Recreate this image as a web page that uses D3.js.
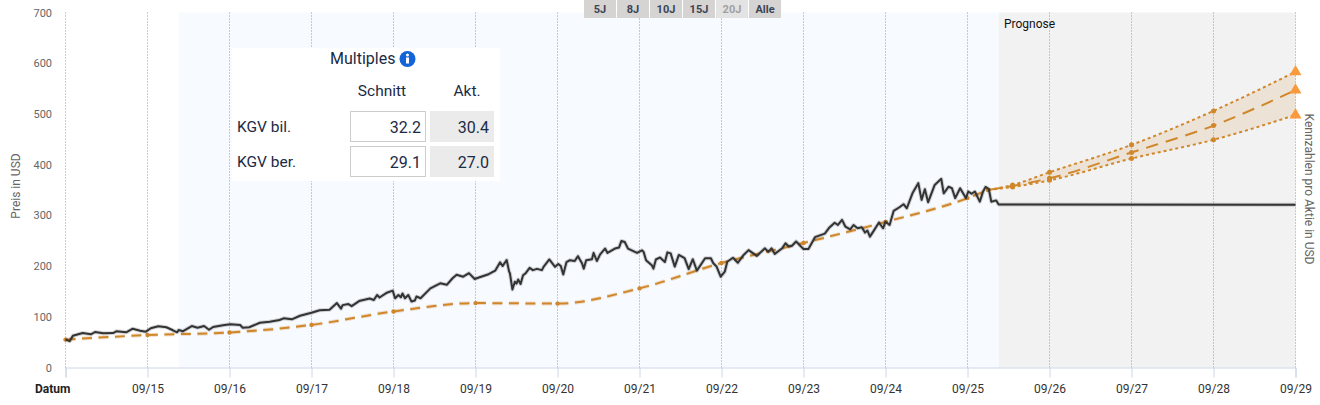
<!DOCTYPE html>
<html><head><meta charset="utf-8">
<script src="https://cdn.jsdelivr.net/npm/d3@7"></script>
<style>
html,body{margin:0;padding:0;background:#fff;overflow:hidden}
svg{display:block;font-family:Roboto,sans-serif}
</style></head><body><svg id="c" width="1320" height="405"></svg>
<script>
// time = years since 09/14
const tickLabels=["09/15","09/16","09/17","09/18","09/19","09/20","09/21","09/22","09/23","09/24","09/25","09/26","09/27","09/28","09/29"];
const yTicks=[0,100,200,300,400,500,600,700];
const ranges=["5J","8J","10J","15J","20J","Alle"];
const priceTimes=[0,.05,.09,.21,.31,.36,.46,.58,.62,.74,.82,.91,.98,1.04,1.13,1.23,1.31,1.36,1.38,1.43,1.54,1.61,1.69,1.75,1.80,1.92,2.01,2.13,2.16,2.24,2.37,2.49,2.61,2.66,2.76,2.86,3.00,3.10,3.22,3.31,3.36,3.38,3.45,3.49,3.58,3.71,3.76,3.80,3.83,3.92,3.99,4.02,4.06,4.09,4.11,4.14,4.18,4.22,4.26,4.28,4.33,4.45,4.57,4.65,4.72,4.77,4.85,4.92,4.99,5.05,5.16,5.24,5.30,5.33,5.38,5.41,5.42,5.45,5.48,5.50,5.52,5.55,5.58,5.61,5.66,5.70,5.75,5.81,5.83,5.90,5.97,6.01,6.04,6.07,6.11,6.15,6.21,6.25,6.30,6.32,6.35,6.42,6.44,6.48,6.52,6.58,6.61,6.70,6.75,6.78,6.82,6.86,6.97,7.03,7.05,7.08,7.15,7.17,7.20,7.25,7.31,7.34,7.38,7.43,7.48,7.55,7.60,7.65,7.70,7.80,7.87,7.90,7.94,7.99,8.04,8.07,8.14,8.20,8.27,8.33,8.43,8.53,8.57,8.61,8.65,8.74,8.78,8.82,8.86,8.91,9.00,9.06,9.14,9.26,9.31,9.38,9.42,9.47,9.51,9.57,9.61,9.66,9.71,9.75,9.78,9.81,9.85,9.92,9.97,10.0,10.05,10.10,10.17,10.22,10.26,10.33,10.40,10.44,10.48,10.52,10.60,10.68,10.71,10.77,10.81,10.85,10.91,10.98,11.01,11.05,11.09,11.15,11.19,11.22,11.26,11.29,11.35,11.38,15];
const priceValues=[55.6,52,62.7,68,65.5,70,67.4,68,71.4,69.4,76.5,72.6,70.6,77.3,81.2,79.3,73.4,69.4,74,71.4,81.8,78.5,81.8,74.5,79.9,83.2,85.2,83.8,78.5,79.3,88.3,90.3,93.7,97,95,102,108,113,114,127,116,123,125,121,131,136,133,143,138,147.5,151.5,136.5,143,138.5,146,136.5,143,130,132,140,136.5,156,166,163,176,183,179,186,174.5,178,184,191,207.5,200,212,189,185.5,154,169,165.5,173.5,164.5,182,185.5,196.5,192,194.5,192,198.5,213,198.5,204,200,183.5,208,211.5,210,219.5,205,195,211.5,213.5,226,210,223,234.5,226,234.5,236.5,249.5,247.5,234.5,226,231,228,211.5,201.5,195,213,217,208,227,225,199,222,215.5,194,213.5,191,215.5,215.5,205.5,199,179,189,208.5,216.5,206.5,222,231.5,220,235,228,235,224,235,245,238.5,240,248.5,233.5,233.5,257,264,275,285.5,281,291,278,272.5,281,274.5,276.5,266,270,258,268,286,274.5,287.5,281,309,316,322,314,344,363.5,330.5,351.5,326,360,372,343.5,356.5,353.5,334,353.5,334,347,342.5,347,327,347,356,352,327,329.5,321.5,321];
const epsTimes=[0,1,2,3,4,5,6,7,8,9,10,11,11.25];
const epsValues=[55,64,69,84,110.5,127,126,156,206,245.5,287,334,350];
const fcTimes=[11.25,11.55,12,13,14,15];
const fcMid=[350,358,373,424,477,547];
const fcHigh=[350,360,385,439,506,583];
const fcLow=[350,356,369,412,449,498];
const multRows=["KGV bil.","KGV ber."];
const multAvg=["32.2","29.1"];
const multCur=["30.4","27.0"];
const bandStart=1.38, forecastStart=11.38;

const svg=d3.select("#c");
const x=d3.scaleLinear().domain([0,15]).range([65.5,1295.5]);
const y=d3.scaleLinear().domain([0,700]).range([367.5,12.5]);
const ORANGE="#d0872b", TEXT="#1c2b45";

svg.append("rect").attr("x",x(bandStart)).attr("y",y(700)).attr("width",x(forecastStart)-x(bandStart)).attr("height",y(0)-y(700)).attr("fill","#f7faff");
svg.append("rect").attr("x",x(forecastStart)).attr("y",y(700)).attr("width",x(15)-x(forecastStart)).attr("height",y(0)-y(700)).attr("fill","#f2f2f2");

// grid
svg.append("g").selectAll("line").data(d3.range(0,16)).join("line")
 .attr("x1",d=>x(d)).attr("x2",d=>x(d)).attr("y1",y(700)).attr("y2",y(0))
 .attr("stroke","#999").attr("stroke-width",1).attr("stroke-dasharray","1,2");

// x axis
const xa=svg.append("g").attr("transform",`translate(0,${y(0)})`)
 .call(d3.axisBottom(x).tickValues(d3.range(0,16)).tickSize(10).tickPadding(7).tickFormat(d=>d===0?"":tickLabels[d-1]));
xa.select(".domain").attr("stroke","#ccd6eb");
xa.selectAll(".tick line").attr("stroke","#ccd6eb");
xa.selectAll("text").attr("font-size",12).attr("font-family","Roboto").attr("fill","#333").attr("dy","0.71em");
svg.append("text").attr("x",35).attr("y",393).attr("font-size",12).attr("font-weight",700).attr("fill","#222").text("Datum");

// y axis
const ya=svg.append("g").attr("transform","translate(52,0)")
 .call(d3.axisLeft(y).tickValues(yTicks).tickSize(0).tickPadding(0));
ya.select(".domain").remove();
ya.selectAll("text").attr("font-size",11).attr("font-family","Roboto").attr("fill","#666");

svg.append("text").attr("transform","translate(20,186) rotate(-90)").attr("text-anchor","middle").attr("font-size",12).attr("fill","#666").text("Preis in USD");
svg.append("text").attr("transform","translate(1305,189) rotate(90)").attr("text-anchor","middle").attr("font-size",12).attr("fill","#666").text("Kennzahlen pro Aktie in USD");
svg.append("text").attr("x",1004).attr("y",28).attr("font-size",12).attr("fill","#111").text("Prognose");

// forecast band
const band=d3.area().x((d,i)=>x(fcTimes[i])).y0((d,i)=>y(fcLow[i])).y1(d=>y(d)).curve(d3.curveMonotoneX);
svg.append("path").attr("d",band(fcHigh)).attr("fill",ORANGE).attr("fill-opacity",.14);

// earnings
const curve=ts=>d3.line().x((d,i)=>x(ts[i])).y(d=>y(d)).curve(d3.curveMonotoneX);
const ep=curve(epsTimes)(epsValues);
svg.append("path").attr("d",ep).attr("fill","none").attr("stroke",ORANGE).attr("stroke-opacity",.25).attr("stroke-width",4).attr("stroke-dasharray","10,6.5");
svg.append("path").attr("d",ep).attr("fill","none").attr("stroke",ORANGE).attr("stroke-width",2).attr("stroke-dasharray","10,6.5");
svg.append("g").selectAll("circle").data(epsValues).join("circle").attr("cx",(d,i)=>x(epsTimes[i])).attr("cy",d=>y(d)).attr("r",2.2).attr("fill",ORANGE);

[[fcHigh,"3,3",2],[fcLow,"3,3",2],[fcMid,"12.5,8",2]].forEach(([vals,dash,w])=>{
 svg.append("path").attr("d",curve(fcTimes)(vals)).attr("fill","none").attr("stroke",ORANGE).attr("stroke-width",w).attr("stroke-dasharray",dash);
 svg.append("g").selectAll("circle").data(vals.slice(1,-1)).join("circle").attr("cx",(d,i)=>x(fcTimes[i+1])).attr("cy",d=>y(d)).attr("r",2.5).attr("fill",ORANGE);
 svg.append("path").attr("d",d3.symbol(d3.symbolTriangle,62)()).attr("transform",`translate(${x(15)},${y(vals[vals.length-1])})`).attr("fill","#fb9a3c");
});

// price
const line=d3.line().x((d,i)=>x(priceTimes[i])).y(d=>y(d));
svg.append("path").attr("d",line(priceValues)).attr("fill","none").attr("stroke","#333").attr("stroke-opacity",.2).attr("stroke-width",4).attr("stroke-linejoin","round");
svg.append("path").attr("d",line(priceValues)).attr("fill","none").attr("stroke","#333").attr("stroke-width",2).attr("stroke-linejoin","round");

// range buttons
const bw=33;
const bg=svg.append("g").selectAll("g").data(ranges).join("g").attr("transform",(d,i)=>`translate(${584+i*bw},0)`);
bg.append("rect").attr("width",bw-1).attr("height",18).attr("fill",d=>d==="20J"?"#e3e3e3":"#d6d4d2");
bg.append("text").attr("x",(bw-1)/2).attr("y",13).attr("text-anchor","middle").attr("font-size",11).attr("font-weight",700)
 .attr("fill",d=>d==="20J"?"#a0a0a0":"#3c4454").text(d=>d);

// multiples panel
const p=svg.append("g");
p.append("rect").attr("x",232).attr("y",48).attr("width",268).attr("height",133).attr("fill","#fff");
p.append("text").attr("x",330).attr("y",63.5).attr("font-size",16).attr("fill",TEXT).text("Multiples");
p.append("circle").attr("cx",407.5).attr("cy",59).attr("r",8).attr("fill","#1464d8");
p.append("circle").attr("cx",407.5).attr("cy",55).attr("r",1.5).attr("fill","#fff");
p.append("rect").attr("x",406).attr("y",57.5).attr("width",3).attr("height",6).attr("fill","#fff");
p.append("text").attr("x",382).attr("y",96).attr("text-anchor","middle").attr("font-size",15.5).attr("fill",TEXT).text("Schnitt");
p.append("text").attr("x",467).attr("y",96).attr("text-anchor","middle").attr("font-size",15.5).attr("fill",TEXT).text("Akt.");
multRows.forEach((r,i)=>{
 const top=111+i*35;
 p.append("text").attr("x",237).attr("y",top+21).attr("font-size",15.5).attr("fill",TEXT).text(r);
 p.append("rect").attr("x",350.5).attr("y",top+.5).attr("width",75).attr("height",30).attr("fill","#fff").attr("stroke","#ccc");
 p.append("rect").attr("x",430).attr("y",top).attr("width",64).attr("height",31).attr("fill","#ebebeb");
 p.append("text").attr("x",421).attr("y",top+21.5).attr("text-anchor","end").attr("font-size",16).attr("fill",TEXT).text(multAvg[i]);
 p.append("text").attr("x",489).attr("y",top+21.5).attr("text-anchor","end").attr("font-size",16).attr("fill",TEXT).text(multCur[i]);
});
</script></body></html>
